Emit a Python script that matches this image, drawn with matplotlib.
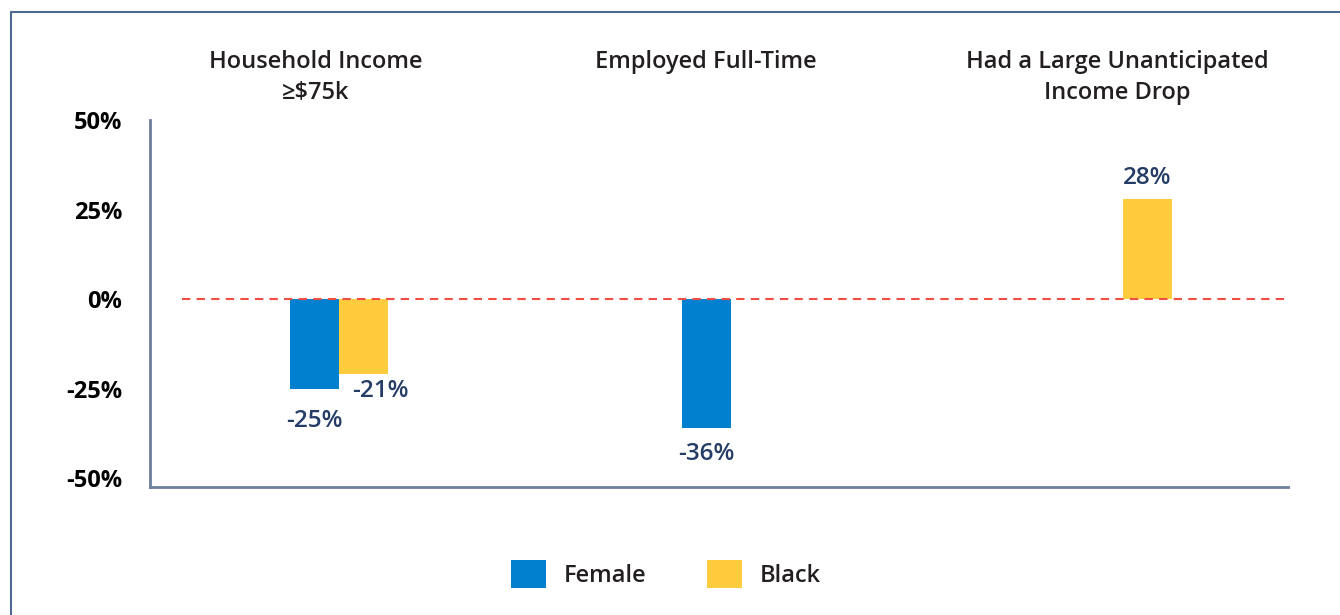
import matplotlib
matplotlib.use("Agg")
import matplotlib.pyplot as plt
from matplotlib.lines import Line2D
from matplotlib.patches import Patch
import numpy as np

categories = ["Household Income\n≥$75k", "Employed Full-Time", "Had a Large Unanticipated\nIncome Drop"]
series_names = ["Female", "Black"]
female = [-25, -36, 0]
black = [-21, 0, 28]
female_labels = ["-25%", "-36%", ""]
black_labels = ["-21%", "", "28%"]
yticks = [-50, -25, 0, 25, 50]
ytick_labels = ["-50%", "-25%", "0%", "25%", "50%"]

BLUE = "#0080CF"
YELLOW = "#FFCC3D"
NAVY = "#243C66"
TEXT = "#231F20"
SPINE = "#6E7F9C"

plt.rcParams['font.family'] = ['Open Sans', 'DejaVu Sans']

fig = plt.figure(figsize=(13.4, 6.15), dpi=100)
ax = fig.add_axes([150/1340, 1-487/615, (1288-150)/1340, (487-120)/615])

x = np.arange(len(categories))
w = 0.125
female_offsets = [(0, -20), (0, -14), (0, 0)]
black_offsets = [(17, -5), (0, 0), (0, 9)]
lab_kw = dict(fontsize=17.5, fontweight="semibold", color=NAVY, textcoords="offset pixels")
for i in range(len(categories)):
    if female[i] != 0:
        ax.bar(x[i] - w/2, female[i], w, color=BLUE, edgecolor="none", zorder=2)
        ax.annotate(female_labels[i], (x[i] - w/2, female[i]), xytext=female_offsets[i],
                    ha="center", va="top", **lab_kw)
    if black[i] != 0:
        ax.bar(x[i] + w/2, black[i], w, color=YELLOW, edgecolor="none", zorder=2)
        ax.annotate(black_labels[i], (x[i] + w/2, black[i]), xytext=black_offsets[i],
                    ha="center", va="top" if black[i] < 0 else "bottom", **lab_kw)

ax.plot([-0.40, 2.41], [0, 0], color="#F04E45", linestyle=(0, (4, 3)), linewidth=1.5, zorder=3)

ax.set_xlim(-0.482, 2.421)
ax.set_ylim(-52.5, 50)
ax.set_yticks(yticks)
ax.set_yticklabels(ytick_labels, fontsize=17, fontweight="bold", color="black")
ax.set_xticks([])
ax.tick_params(axis="y", length=0, pad=20)
for s in ["top", "right"]:
    ax.spines[s].set_visible(False)
for s in ["left", "bottom"]:
    ax.spines[s].set_color(SPINE)
    ax.spines[s].set_linewidth(2)

title_shift = [-0.06, -0.065, -0.015]
for i, c in enumerate(categories):
    ax.text(x[i] + title_shift[i], 1.19, c, transform=ax.get_xaxis_transform(),
            ha="center", va="top", fontsize=17, fontweight="semibold", color=TEXT,
            linespacing=1.35)

handles = [Patch(facecolor=BLUE, edgecolor="none"), Patch(facecolor=YELLOW, edgecolor="none")]
leg = fig.legend(handles, series_names, loc="center", bbox_to_anchor=(666/1340, 1-574/615),
                 ncol=2, frameon=False, handlelength=1.45, handleheight=1.45,
                 handletextpad=0.75, columnspacing=2.6,
                 prop={"family": ["Open Sans", "DejaVu Sans"], "weight": "semibold", "size": 17})
for t in leg.get_texts():
    t.set_color(TEXT)

# outer frame (left and top edges)
fig.add_artist(Line2D([10.5/1340, 10.5/1340, 1.0], [0.0, 1-12/615, 1-12/615],
                      transform=fig.transFigure, color="#4E6894", linewidth=1.5))

fig.savefig("out.png", dpi=100, facecolor="white")
